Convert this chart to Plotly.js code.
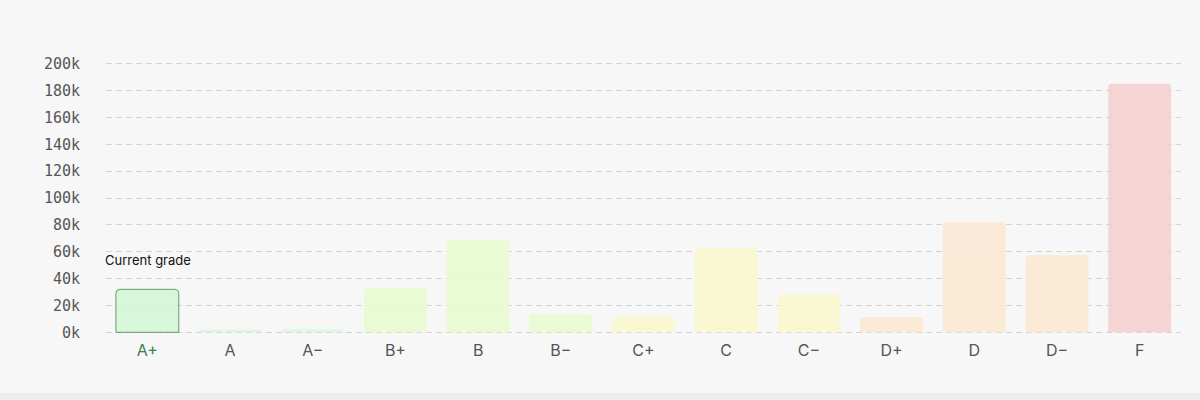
<!DOCTYPE html>
<html>
<head>
<meta charset="utf-8">
<script src="https://cdn.plot.ly/plotly-3.0.1.min.js"></script>
<style>
  html, body { margin: 0; padding: 0; background: #ededed; }
  #wrap { width: 1200px; height: 400px; background: #ededed; }
  #chart { width: 1200px; height: 393px; background: #f7f7f7; }
</style>
</head>
<body>
<div id="wrap"><div id="chart"></div></div>
<script>
// grade distribution
var grades = ['A+', 'A', 'A\u2212', 'B+', 'B', 'B\u2212', 'C+', 'C', 'C\u2212', 'D+', 'D', 'D\u2212', 'F'];
var counts = [32000, 2000, 2200, 33000, 69000, 13500, 11500, 63000, 28500, 11200, 82000, 57500, 185000];
var barColors = ['#d2f7d7', '#d9f7dc', '#d9f7dc', '#e8fbd0', '#e8fbd0', '#e8fbd0',
                 '#fbf9cd', '#fbf9cd', '#fbf9cd', '#fbe8d1', '#fbe8d1', '#fbe8d1', '#f5cfcf'];
var currentGrade = 'A+';
var yTicks = [0, 20000, 40000, 60000, 80000, 100000, 120000, 140000, 160000, 180000, 200000];

var lineColors = [], lineWidths = [], tickText = [];
for (let i = 0; i < grades.length; i++) {
    if (grades[i] == currentGrade) {
        lineColors.push('#4f8c58');
        lineWidths.push(1);
        tickText.push('<span style="color:#3d8046">' + grades[i] + '</span>');
    } else {
        lineColors.push('rgba(0,0,0,0)');
        lineWidths.push(0);
        tickText.push(grades[i]);
    }
}

var yText = [];
for (let i = 0; i < yTicks.length; i++) {
    yText.push((yTicks[i] / 1000) + 'k');
}

var bars = {
    x: grades,
    y: counts,
    type: 'bar',
    opacity: 0.85,
    marker: {
        color: barColors,
        line: { color: lineColors, width: lineWidths }
    },
    hoverinfo: 'x+y'
};

var layout = {
    width: 1200,
    height: 393,
    margin: { l: 106, r: 19, t: 61, b: 58 },
    paper_bgcolor: '#f7f7f7',
    plot_bgcolor: '#f7f7f7',
    bargap: 0.24,
    barcornerradius: 4,
    showlegend: false,
    xaxis: {
        type: 'category',
        tickvals: grades,
        ticktext: tickText,
        showgrid: false,
        zeroline: false,
        showline: false,
        ticks: '',
        ticklabelstandoff: 4,
        tickfont: { family: 'Inter, "Open Sans", sans-serif', size: 16, color: '#555555' }
    },
    yaxis: {
        range: [-2000, 202000],
        tickvals: yTicks,
        ticktext: yText,
        showgrid: true,
        gridcolor: '#d4d4d4',
        griddash: '6px,4px',
        gridwidth: 1,
        zeroline: false,
        showline: false,
        ticks: '',
        ticklabelstandoff: 25,
        tickfont: { family: '"DejaVu Sans Mono", monospace', size: 15, color: '#555555' }
    },
    annotations: [{
        text: 'Current grade',
        xref: 'paper',
        x: 0,
        xanchor: 'left',
        xshift: -3,
        yref: 'y',
        y: 54000,
        yanchor: 'middle',
        showarrow: false,
        font: { family: 'Inter, "Open Sans", sans-serif', size: 13, color: '#111111' }
    }]
};

Plotly.newPlot('chart', [bars], layout, { displayModeBar: false, staticPlot: true });
</script>
</body>
</html>
